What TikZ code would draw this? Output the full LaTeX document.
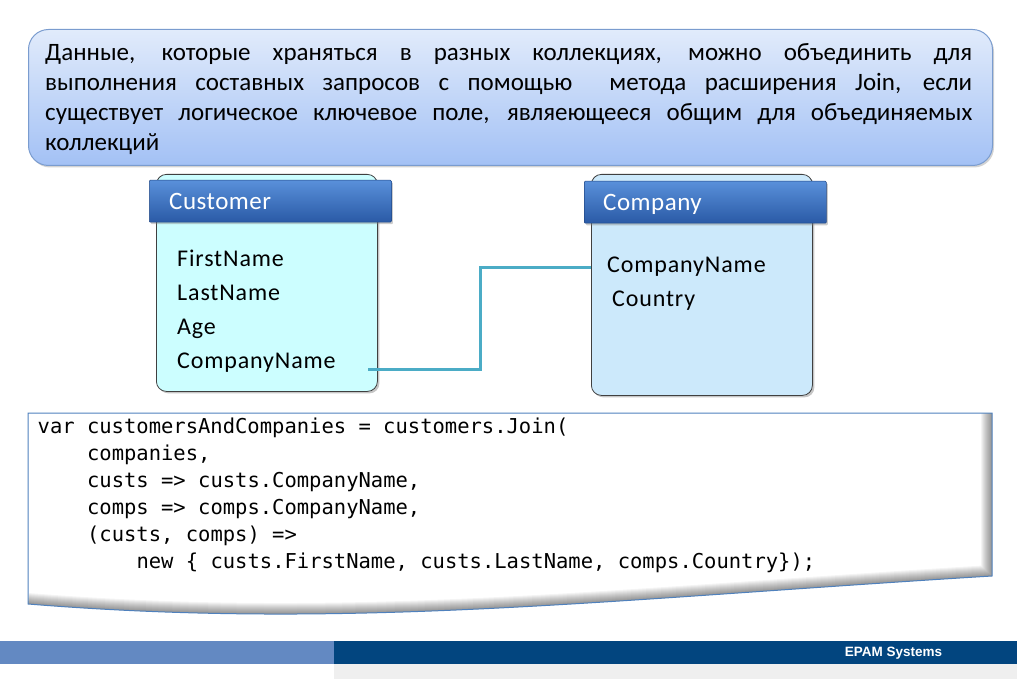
\documentclass[tikz,border=0pt]{standalone}
\usepackage{fontspec}
\setmainfont{Carlito}
\newfontfamily\codefont[WordSpace={1,0,0}]{DejaVu Sans Mono}
\newfontfamily\footfont{Liberation Sans}
\newfontfamily\fieldfont[LetterSpace=3.6]{Carlito}
\newfontfamily\headfont[LetterSpace=2]{Carlito}
\usetikzlibrary{shadows}

\definecolor{noteTop}{HTML}{E1EBFB}
\definecolor{noteBot}{HTML}{A3C1F5}
\definecolor{noteEdge}{HTML}{7A9CCF}
\definecolor{headTop}{HTML}{5990DA}
\definecolor{headBot}{HTML}{2A5AA6}
\definecolor{custFill}{HTML}{CCFEFF}
\definecolor{compFill}{HTML}{CCE9FB}
\definecolor{joinLine}{HTML}{4BACC6}
\definecolor{codeEdge}{HTML}{4F81BD}
\definecolor{footLight}{HTML}{6389C2}
\definecolor{footDark}{HTML}{02457F}
\definecolor{footGray}{HTML}{EFEFEF}

\def\codeshape{(28,413) -- (992,413) -- (992,576) .. controls (600,600) and (350,630) .. (28,604) -- cycle}

\begin{document}
\begin{tikzpicture}[x=1pt,y=-1pt,
  notebox/.style={draw=noteEdge, line width=1pt, rounded corners=20pt,
    top color=noteTop, bottom color=noteBot,
    drop shadow={shadow xshift=1.5pt, shadow yshift=-2pt, opacity=0.35}},
  noteline/.style={anchor=base west, inner sep=0pt, font=\fontsize{25}{30}\selectfont},
  tablebody/.style={draw=black!75, line width=0.8pt, rounded corners=10pt,
    drop shadow={shadow xshift=2pt, shadow yshift=-2pt, opacity=0.45}},
  tablehead/.style={draw=headBot!80!black, line width=0.5pt, rounded corners=1pt,
    top color=headTop, bottom color=headBot,
    drop shadow={shadow xshift=1.5pt, shadow yshift=-2pt, opacity=0.4}},
  headtext/.style={anchor=base west, inner sep=0pt, text=white, font=\headfont\fontsize{25}{30}\selectfont},
  field/.style={anchor=base west, inner sep=0pt, font=\fieldfont\fontsize{24}{30}\selectfont},
  joinlink/.style={draw=joinLine, line width=3pt},
  codeline/.style={anchor=base west, inner sep=0pt, font=\codefont\fontsize{20.5}{27}\selectfont},
]
\useasboundingbox (0,0) rectangle (1017,679);

% explanatory note
\node[notebox, anchor=north west, minimum width=964pt, minimum height=136pt] (note) at (28,29) {};
\node[noteline] (n1) at (45,61) {\makebox[927pt][s]{Данные, которые храняться в разных коллекциях, можно объединить для}};
\node[noteline] (n2) at (45,91) {\makebox[927pt][s]{выполнения составных запросов с помощью\ \ метода расширения Join, если}};
\node[noteline] (n3) at (45,121) {\makebox[927pt][s]{существует логическое ключевое поле, являеющееся общим для объединяемых}};
\node[noteline] (n4) at (45,151) {коллекций};

% Customer table
\node[tablebody, fill=custFill, anchor=north west, minimum width=221pt, minimum height=217pt] (cust) at (156,174) {};
\node[tablehead, anchor=north west, minimum width=242pt, minimum height=42pt] (custhead) at (149,180) {};
\node[headtext] (custtitle) at (169,209.5) {Customer};
\node[field] (cf1) at (177,266) {FirstName};
\node[field] (cf2) at (177,300) {LastName};
\node[field] (cf3) at (177,334) {Age};
\node[field] (cf4) at (177,368) {CompanyName};

% Company table
\node[tablebody, fill=compFill, anchor=north west, minimum width=221pt, minimum height=221pt] (comp) at (591,174) {};
\node[tablehead, anchor=north west, minimum width=242pt, minimum height=42pt] (comphead) at (584,181) {};
\node[headtext] (comptitle) at (603,211) {Company};
\node[field] (pf1) at (607,272) {CompanyName};
\node[field] (pf2) at (612,306) {Country};

% join link between the key fields
\coordinate (jstart) at (368,369);
\coordinate (jmid) at (480,0);
\coordinate (jend) at (591,267);
\draw[joinlink] (jstart) -- (jstart -| jmid) -- (jmid |- jend) -- (jend);

% code listing on a curled sheet
\fill[white] \codeshape;
\begin{scope}
  \clip \codeshape;
  \foreach \w in {2,4,...,22}
    \draw[black, opacity=0.045, line width=\w pt]
      (992,400) -- (992,576) .. controls (600,600) and (350,630) .. (28,604);
\end{scope}
\draw[codeEdge, line width=1pt] \codeshape;

\node[codeline] (c1) at (37.5,433.5) {var customersAndCompanies = customers.Join(};
\node[codeline] (c2) at (86.9,460.5) {companies,};
\node[codeline] (c3) at (86.9,487.5) {custs => custs.CompanyName,};
\node[codeline] (c4) at (86.9,514.5) {comps => comps.CompanyName,};
\node[codeline] (c5) at (86.9,541.5) {(custs, comps) =>};
\node[codeline] (c6) at (136.3,568.5) {new \{ custs.FirstName, custs.LastName, comps.Country\});};

% footer band
\fill[footLight] (0,641) rectangle (334,664);
\fill[footDark] (334,641) rectangle (1017,664);
\fill[footGray] (334,664) rectangle (1017,679);
\node[text=white, inner sep=0pt, font=\footfont\bfseries\fontsize{13.5}{16}\selectfont] (brand) at (893.5,653.5) {EPAM Systems};
\end{tikzpicture}
\end{document}
